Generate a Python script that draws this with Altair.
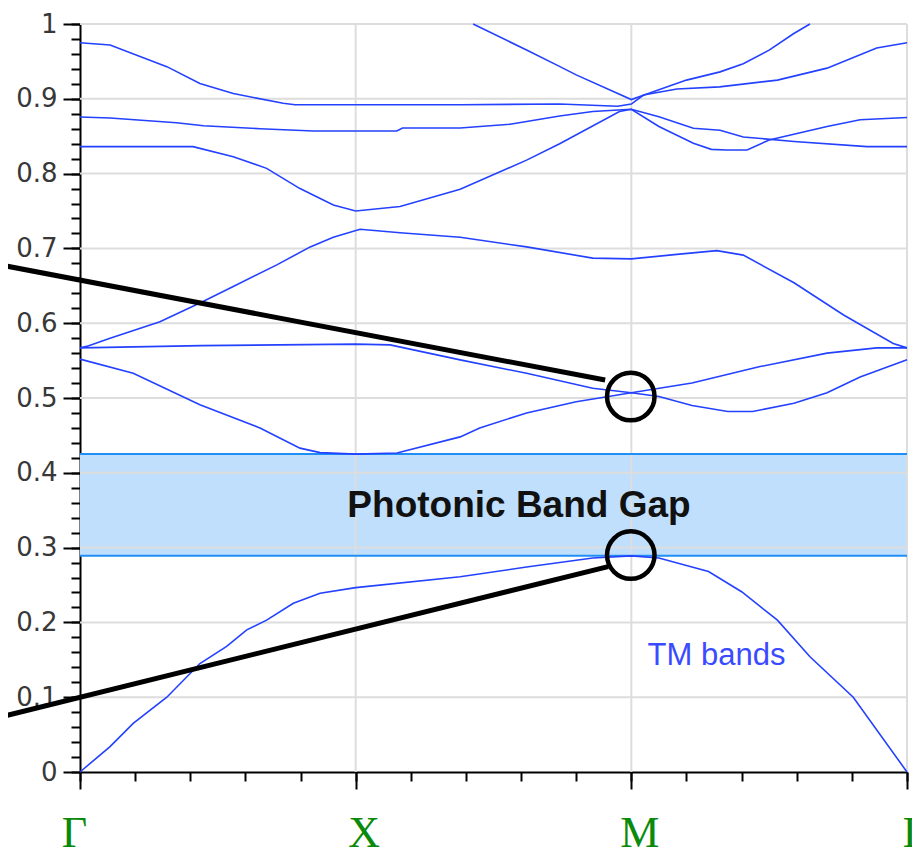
import altair as alt
import pandas as pd

# ---------------- path / axis labels ----------------
SYM_POS = [0, 1, 2, 3]
SYM_LABELS = ["Γ", "X", "M", "Γ"]
X_MINOR = [0, 0.2, 0.4, 0.6, 0.8, 1, 1.2, 1.4, 1.6, 1.8, 2, 2.2, 2.4, 2.6, 2.8, 3]
Y_MINOR = [round(i * 0.02, 2) for i in range(51)]
Y_MAJOR = [0, 0.1, 0.2, 0.3, 0.4, 0.5, 0.6, 0.7, 0.8, 0.9, 1.0]
GRID_Y = [0.1, 0.2, 0.3, 0.4, 0.5, 0.6, 0.7, 0.8, 0.9, 1.0]
GRID_X = [1, 2, 3]

# ---------------- TM bands (k along Γ-X-M-Γ, frequency ωa/2πc) ----------------
band1_k = [0, 0.109, 0.193, 0.315, 0.435, 0.532, 0.605, 0.677, 0.774, 0.871, 1.0, 1.379, 1.62, 1.86, 2.0,
           2.1, 2.28, 2.40, 2.53, 2.648, 2.805, 3.0]
band1_v = [0, 0.034, 0.065, 0.1, 0.145, 0.168, 0.19, 0.203, 0.2255, 0.239, 0.2465, 0.261, 0.274, 0.286, 0.289,
           0.286, 0.268, 0.241, 0.203, 0.154, 0.1, 0]

band2_k = [0, 0.193, 0.435, 0.653, 0.798, 0.871, 1.0, 1.15, 1.379, 1.45, 1.62, 1.80, 2.0, 2.10, 2.22, 2.35,
           2.44, 2.59, 2.71, 2.83, 3.0]
band2_v = [0.552, 0.533, 0.491, 0.46, 0.433, 0.427, 0.425, 0.4265, 0.448, 0.46, 0.48, 0.495, 0.507, 0.502,
           0.49, 0.482, 0.482, 0.493, 0.507, 0.528, 0.551]

band3_k = [0, 0.44, 1.0, 1.125, 1.379, 1.62, 1.86, 2.0, 2.22, 2.467, 2.71, 2.89, 3.0]
band3_v = [0.567, 0.570, 0.572, 0.571, 0.551, 0.533, 0.513, 0.507, 0.52, 0.542, 0.56, 0.567, 0.567]

band4_k = [0, 0.024, 0.109, 0.29, 0.435, 0.556, 0.714, 0.835, 0.919, 1.016, 1.161, 1.379, 1.62, 1.86, 2.0,
           2.165, 2.31, 2.406, 2.59, 2.77, 2.95, 3.0]
band4_v = [0.567, 0.569, 0.58, 0.602, 0.627, 0.649, 0.678, 0.702, 0.715, 0.7255, 0.721, 0.715, 0.702, 0.687,
           0.686, 0.692, 0.697, 0.691, 0.654, 0.611, 0.573, 0.567]

band5_k = [0, 0.41, 0.556, 0.677, 0.798, 0.919, 1.0, 1.161, 1.379, 1.62, 1.74, 1.957, 2.0, 2.1, 2.225, 2.29,
           2.346, 2.42, 2.5, 2.71, 2.83, 3.0]
band5_v = [0.836, 0.836, 0.8226, 0.807, 0.78, 0.758, 0.750, 0.756, 0.779, 0.818, 0.840, 0.883, 0.886, 0.863,
           0.8405, 0.8324, 0.8316, 0.8316, 0.845, 0.863, 0.872, 0.875]

band6_k = [0, 0.109, 0.35, 0.448, 0.653, 0.847, 1.0, 1.149, 1.17, 1.379, 1.56, 1.74, 1.86, 2.0, 2.1, 2.225,
           2.322, 2.406, 2.59, 2.855, 3.0]
band6_v = [0.8756, 0.8743, 0.868, 0.864, 0.860, 0.857, 0.857, 0.857, 0.861, 0.861, 0.866, 0.877, 0.883, 0.886,
           0.876, 0.8606, 0.858, 0.849, 0.843, 0.836, 0.836]

band7_k = [0, 0.109, 0.315, 0.435, 0.556, 0.737, 0.78, 1.0, 1.379, 1.74, 1.95, 2.0, 2.044, 2.165, 2.32, 2.53,
           2.71, 2.89, 3.0]
band7_v = [0.975, 0.972, 0.943, 0.9206, 0.907, 0.894, 0.892, 0.892, 0.892, 0.893, 0.890, 0.893, 0.905, 0.913,
           0.916, 0.925, 0.941, 0.968, 0.975]

band8_k = [1.426, 1.62, 1.741, 1.80, 2.0, 2.1, 2.2, 2.322, 2.406, 2.5, 2.588, 2.648]
band8_v = [1.0, 0.9652, 0.943, 0.932, 0.899, 0.912, 0.925, 0.936, 0.947, 0.965, 0.987, 1.0]

# ---------------- band gap ----------------
GAP_LO = 0.289
GAP_HI = 0.425
GAP_TEXT = "Photonic Band Gap"
GAP_TEXT_K = 1.5925
GAP_TEXT_V = 0.341
TM_TEXT = "TM bands"
TM_TEXT_K = 2.059
TM_TEXT_V = 0.143

# ---------------- annotation pointers ----------------
ptr1_k = [-0.29, 1.905]
ptr1_v = [0.678, 0.524]
ptr2_k = [-0.29, 1.916]
ptr2_v = [0.0735, 0.2745]
circ_k = [1.998, 1.998]
circ_v = [0.502, 0.290]

# ---------------- tables ----------------
bands = []
for name, ks, vs in [("1", band1_k, band1_v), ("2", band2_k, band2_v), ("3", band3_k, band3_v),
                     ("4", band4_k, band4_v), ("5", band5_k, band5_v), ("6", band6_k, band6_v),
                     ("7", band7_k, band7_v), ("8", band8_k, band8_v)]:
    for i, (k, v) in enumerate(zip(ks, vs)):
        bands.append({"band": name, "k": k, "v": v, "order": i})
bands_df = pd.DataFrame(bands)

ptr_rows = []
for name, ks, vs in [("a", ptr1_k, ptr1_v), ("b", ptr2_k, ptr2_v)]:
    for i, (k, v) in enumerate(zip(ks, vs)):
        ptr_rows.append({"ptr": name, "k": k, "v": v, "order": i})
ptr_df = pd.DataFrame(ptr_rows)
circ_df = pd.DataFrame({"k": circ_k, "v": circ_v})
gap_df = pd.DataFrame({"k": [SYM_POS[0]], "k2": [SYM_POS[-1]], "lo": [GAP_LO], "hi": [GAP_HI]})
gap_edges_df = pd.DataFrame({"k": [SYM_POS[0]] * 2, "k2": [SYM_POS[-1]] * 2, "v": [GAP_LO, GAP_HI]})
gridy_df = pd.DataFrame({"k": [SYM_POS[0]] * len(GRID_Y), "k2": [SYM_POS[-1]] * len(GRID_Y), "v": GRID_Y})
gridx_df = pd.DataFrame({"k": GRID_X, "lo": [0] * len(GRID_X), "hi": [1] * len(GRID_X)})
text_df = pd.DataFrame({"k": [GAP_TEXT_K], "v": [GAP_TEXT_V], "t": [GAP_TEXT]})
tm_df = pd.DataFrame({"k": [TM_TEXT_K], "v": [TM_TEXT_V], "t": [TM_TEXT]})

# ---------------- scales / axes ----------------
xs = alt.Scale(domain=[0, 3], nice=False, zero=False)
ys = alt.Scale(domain=[0, 1], nice=False, zero=False)

x_label_expr = ""
for p, lab in zip(SYM_POS, SYM_LABELS):
    x_label_expr += f"abs(datum.value - {p}) < 0.001 ? '{lab}' : "
x_label_expr += "''"

common = dict(title="", grid=False, tickColor="black", tickWidth=2, labelOverlap=False, labelFlush=False)

# major x ticks X, M, Γ (labels slightly to the right as in the source)
x_major = alt.Axis(values=SYM_POS[1:], orient="bottom", domain=True, domainColor="black", domainWidth=2,
                   tickSize=17, labelExpr=x_label_expr, labelFont="Liberation Serif", labelFontSize=44,
                   labelColor="#0a8a0a", labelPadding=22, labelOffset=8, labelBound=False, **common)
# first Γ tick (label slightly to the left)
x_first = alt.Axis(values=SYM_POS[:1], orient="bottom", domain=False, tickSize=17, labelExpr=x_label_expr,
                   labelFont="Liberation Serif", labelFontSize=44, labelColor="#0a8a0a", labelPadding=22,
                   labelOffset=-6, labelBound=False, **common)
x_minor = alt.Axis(values=X_MINOR, orient="bottom", domain=False, tickSize=9, labels=False, **common)

y_major = alt.Axis(values=Y_MAJOR, orient="left", domain=True, domainColor="black", domainWidth=2,
                   tickSize=17, format="~g", labelFont="DejaVu Sans", labelFontSize=26,
                   labelColor="#383838", labelPadding=6, **common)
y_minor = alt.Axis(values=Y_MINOR, orient="left", domain=False, tickSize=9, labels=False, **common)

# ---------------- layers ----------------
gap_fill = alt.Chart(gap_df).mark_rect(color="#bfdffc", opacity=1).encode(
    x=alt.X("k:Q", scale=xs, axis=x_first), x2="k2:Q",
    y=alt.Y("lo:Q", scale=ys, axis=None), y2="hi:Q",
)
grid_h = alt.Chart(gridy_df).mark_rule(color="#dddddd", strokeWidth=2).encode(
    x=alt.X("k:Q", scale=xs, axis=x_minor), x2="k2:Q", y=alt.Y("v:Q", scale=ys, axis=y_minor),
)
grid_v = alt.Chart(gridx_df).mark_rule(color="#dddddd", strokeWidth=2).encode(
    x=alt.X("k:Q", scale=xs, axis=None), y=alt.Y("lo:Q", scale=ys, axis=None), y2="hi:Q",
)
gap_edges = alt.Chart(gap_edges_df).mark_rule(color="#1f8ff5", strokeWidth=2).encode(
    x=alt.X("k:Q", scale=xs, axis=None), x2="k2:Q", y=alt.Y("v:Q", scale=ys, axis=None),
)
lines = alt.Chart(bands_df).mark_line(color="#2341ff", strokeWidth=1.6).encode(
    x=alt.X("k:Q", scale=xs, axis=x_major),
    y=alt.Y("v:Q", scale=ys, axis=y_major),
    detail="band:N",
    order="order:Q",
)
gap_text = alt.Chart(text_df).mark_text(
    font="Liberation Sans", fontSize=37, fontWeight="bold", color="#111111", align="center", baseline="alphabetic",
).encode(x=alt.X("k:Q", scale=xs, axis=None), y=alt.Y("v:Q", scale=ys, axis=None), text="t:N")
tm_text = alt.Chart(tm_df).mark_text(
    font="Liberation Sans", fontSize=31, color="#3a4bff", align="left", baseline="alphabetic",
).encode(x=alt.X("k:Q", scale=xs, axis=None), y=alt.Y("v:Q", scale=ys, axis=None), text="t:N")
pointers = alt.Chart(ptr_df).mark_line(color="black", strokeWidth=5, clip=False).encode(
    x=alt.X("k:Q", scale=xs, axis=None), y=alt.Y("v:Q", scale=ys, axis=None),
    detail="ptr:N", order="order:Q",
)
circles = alt.Chart(circ_df).mark_point(
    shape="circle", filled=False, size=2256, stroke="black", strokeWidth=4.5, opacity=1,
).encode(x=alt.X("k:Q", scale=xs, axis=None), y=alt.Y("v:Q", scale=ys, axis=None))

chart = alt.layer(
    gap_fill, grid_h, grid_v, gap_edges, lines, gap_text, tm_text, pointers, circles
).resolve_axis(
    x="independent", y="independent"
).properties(
    width=827, height=748,
    autosize=alt.AutoSizeParams(type="none"),
    padding={"left": 72, "top": 16, "right": 5, "bottom": 76},
).configure_view(strokeWidth=0).configure(background="white")

chart.save("out.html", embed_options={"renderer": "svg", "actions": False})
